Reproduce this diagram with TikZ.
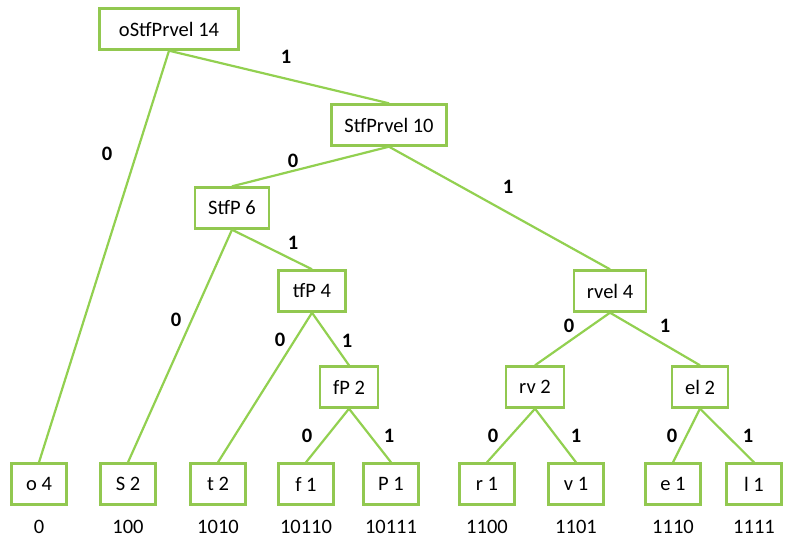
\documentclass[tikz,border=0pt]{standalone}
\usepackage{fontspec}
\setmainfont{Carlito}
\usetikzlibrary{positioning}
\definecolor{boxgreen}{RGB}{146,200,80}
\definecolor{linegreen}{RGB}{146,208,80}
\tikzset{
  huff/.style={draw=boxgreen,line width=2.4pt,fill=white,minimum height=41pt,minimum width=55pt,inner xsep=13pt,font=\fontsize{20.5}{24}\selectfont},
  link/.style={draw=linegreen,line width=2.2pt},
  bit/.style={font=\fontsize{20.5}{24}\selectfont\bfseries,inner sep=1pt},
  code/.style={font=\fontsize{20.5}{24}\selectfont,inner sep=2pt}
}
\begin{document}
\begin{tikzpicture}[x=1pt,y=-1pt]
\useasboundingbox (0,0) rectangle (785,538);
\draw (169,29) node[huff,minimum width=139pt] (Root) {oStfPrvel 14};
\draw (389,125) node[huff,minimum width=111pt] (StfPrvel) {StfPrvel 10};
\draw (232,208) node[huff,minimum width=69pt] (StfP) {StfP 6};
\draw (312,291) node[huff,minimum width=67pt] (TfP) {tfP 4};
\draw (610,291) node[huff,minimum width=69pt] (Rvel) {rvel 4};
\draw (349,387) node[huff] (FP) {fP 2};
\draw (535,387) node[huff] (Rv) {rv 2};
\draw (700,387) node[huff] (El) {el 2};

\draw (39,484) node[huff] (O) {o 4};
\draw (128,484) node[huff] (S) {S 2};
\draw (218,484) node[huff] (T) {t 2};
\draw (306,484) node[huff] (F) {f 1};
\draw (391,484) node[huff] (P) {P 1};
\draw (487,484) node[huff] (R) {r 1};
\draw (576,484) node[huff] (V) {v 1};
\draw (673,484) node[huff] (E) {e 1};
\draw (754,484) node[huff] (L) {l 1};

\draw[link] (Root.south) -- (O.north);
\draw[link] (Root.south) -- (StfPrvel.north);
\draw[link] (StfPrvel.south) -- (StfP.north);
\draw[link] (StfPrvel.south) -- (Rvel.north);
\draw[link] (StfP.south) -- (S.north);
\draw[link] (StfP.south) -- (TfP.north);
\draw[link] (TfP.south) -- (T.north);
\draw[link] (TfP.south) -- (FP.north);
\draw[link] (FP.south) -- (F.north);
\draw[link] (FP.south) -- (P.north);
\draw[link] (Rvel.south) -- (Rv.north);
\draw[link] (Rvel.south) -- (El.north);
\draw[link] (Rv.south) -- (R.north);
\draw[link] (Rv.south) -- (V.north);
\draw[link] (El.south) -- (E.north);
\draw[link] (El.south) -- (L.north);

% bits on the branches
\draw (286,57) node[bit] (B1) {1};
\draw (107,154) node[bit] (B2) {0};
\draw (293,161) node[bit] (B3) {0};
\draw (508,187) node[bit] (B4) {1};
\draw (293,243) node[bit] (B5) {1};
\draw (176,320) node[bit] (B6) {0};
\draw (280,340) node[bit] (B7) {0};
\draw (347,341) node[bit] (B8) {1};
\draw (569,326) node[bit] (B9) {0};
\draw (665,326) node[bit] (B10) {1};
\draw (307,436) node[bit] (B11) {0};
\draw (389,436) node[bit] (B12) {1};
\draw (493,436) node[bit] (B13) {0};
\draw (576,436) node[bit] (B14) {1};
\draw (672,436) node[bit] (B15) {0};
\draw (748,436) node[bit] (B16) {1};

% codes under the leaves
\draw (O.south) node[code,below=12pt] (CO) {0};
\draw (S.south) node[code,below=12pt] (CS) {100};
\draw (T.south) node[code,below=12pt] (CT) {1010};
\draw (F.south) node[code,below=12pt] (CF) {10110};
\draw (P.south) node[code,below=12pt] (CP) {10111};
\draw (R.south) node[code,below=12pt] (CR) {1100};
\draw (V.south) node[code,below=12pt] (CV) {1101};
\draw (E.south) node[code,below=12pt] (CE) {1110};
\draw (L.south) node[code,below=12pt] (CL) {1111};
\end{tikzpicture}
\end{document}
